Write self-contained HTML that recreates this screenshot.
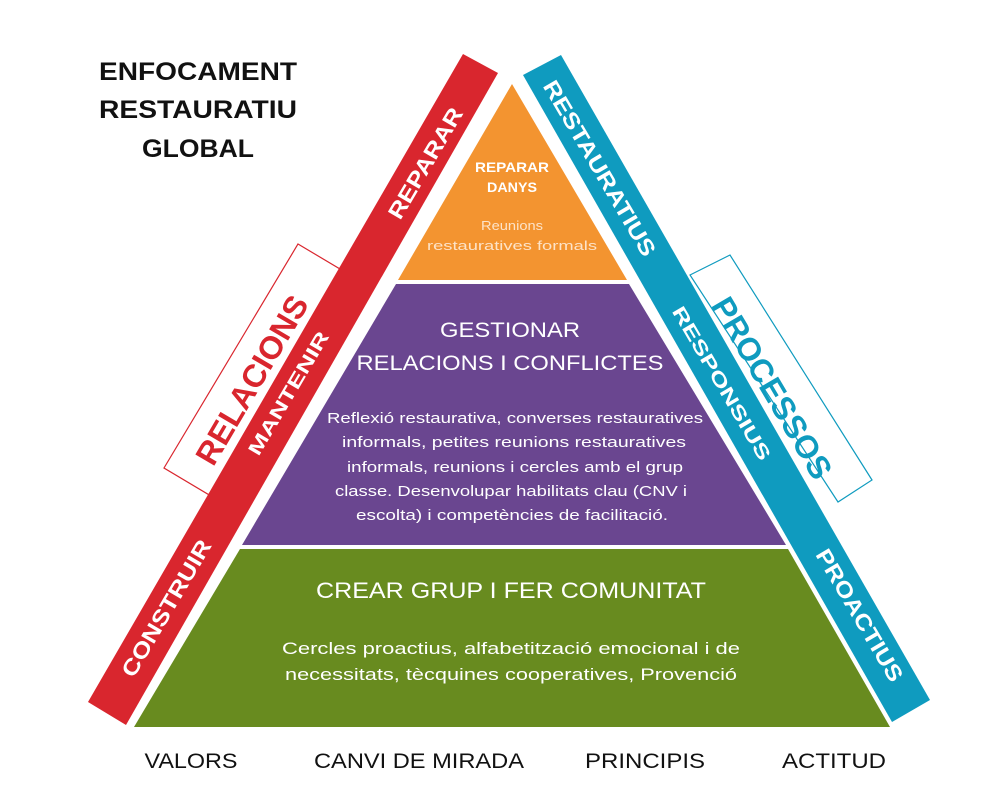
<!DOCTYPE html>
<html><head><meta charset="utf-8"><style>
html,body{margin:0;padding:0;background:#fff;}
svg{display:block;font-family:"Liberation Sans",sans-serif;}
</style></head><body>
<svg width="999" height="810" viewBox="0 0 999 810" xmlns="http://www.w3.org/2000/svg">
<!-- outline boxes -->
<polygon points="298,244 345,272 211,496 164,468" fill="#fff" stroke="#d9262e" stroke-width="1.2"/>
<polygon points="690,275 730,255 872,480 838,502" fill="#fff" stroke="#0f9bbf" stroke-width="1.2"/>
<!-- bands -->
<polygon points="463,54 498,73 126,725 88,702" fill="#d9262e"/>
<polygon points="523,75 561,55 930,700 892,722" fill="#0f9bbf"/>
<!-- pyramid -->
<polygon points="512,84 627,280 398,280" fill="#f39430"/>
<polygon points="396,284 629,284 786,545 242,545" fill="#6a4690"/>
<polygon points="240,549 788,549 890,727 134,727" fill="#688b1f"/>

<!-- title -->
<g font-weight="bold" font-size="25" fill="#111" text-anchor="middle">
<text x="198" y="80" textLength="198" lengthAdjust="spacingAndGlyphs">ENFOCAMENT</text>
<text x="198" y="118" textLength="198" lengthAdjust="spacingAndGlyphs">RESTAURATIU</text>
<text x="198" y="157" textLength="112" lengthAdjust="spacingAndGlyphs">GLOBAL</text>
</g>

<!-- band texts -->
<g font-weight="bold" fill="#fff" text-anchor="middle" font-size="22">
<text transform="translate(425,163) rotate(-59.5)" y="8" textLength="125" lengthAdjust="spacingAndGlyphs">REPARAR</text>
<text transform="translate(288,393) rotate(-59.5)" y="7" font-size="19" textLength="140" lengthAdjust="spacingAndGlyphs">MANTENIR</text>
<text transform="translate(166,608) rotate(-59.5)" y="8" textLength="155" lengthAdjust="spacingAndGlyphs">CONSTRUIR</text>
<text transform="translate(600,168) rotate(59.5)" y="8" textLength="200" lengthAdjust="spacingAndGlyphs">RESTAURATIUS</text>
<text transform="translate(722,383) rotate(59.5)" y="7" font-size="19" textLength="175" lengthAdjust="spacingAndGlyphs">RESPONSIUS</text>
<text transform="translate(860,615) rotate(59.5)" y="8" textLength="150" lengthAdjust="spacingAndGlyphs">PROACTIUS</text>
</g>
<g font-weight="bold" text-anchor="middle" font-size="32">
<text transform="translate(252,380) rotate(-59.5)" y="11" fill="#d9262e" textLength="190" lengthAdjust="spacingAndGlyphs">RELACIONS</text>
<text transform="translate(772,388) rotate(59.5)" y="11" fill="#0f9bbf" textLength="205" lengthAdjust="spacingAndGlyphs">PROCESSOS</text>
</g>

<!-- orange -->
<g fill="#fff" text-anchor="middle">
<text x="512" y="172" font-size="14" font-weight="bold" textLength="74" lengthAdjust="spacingAndGlyphs">REPARAR</text>
<text x="512" y="192" font-size="14" font-weight="bold" textLength="50" lengthAdjust="spacingAndGlyphs">DANYS</text>
<text x="512" y="230" font-size="13" fill="#fde3c8" textLength="62" lengthAdjust="spacingAndGlyphs">Reunions</text>
<text x="512" y="250" font-size="13" fill="#fde3c8" textLength="170" lengthAdjust="spacingAndGlyphs">restauratives formals</text>
</g>
<!-- purple -->
<g fill="#fff" text-anchor="middle">
<text x="510" y="337" font-size="21" textLength="140" lengthAdjust="spacingAndGlyphs">GESTIONAR</text>
<text x="510" y="370" font-size="21" textLength="307" lengthAdjust="spacingAndGlyphs">RELACIONS I CONFLICTES</text>
<g font-size="15">
<text x="515" y="423" textLength="376" lengthAdjust="spacingAndGlyphs">Reflexió restaurativa, converses restauratives</text>
<text x="514" y="447" textLength="344" lengthAdjust="spacingAndGlyphs">informals, petites reunions restauratives</text>
<text x="515" y="472" textLength="336" lengthAdjust="spacingAndGlyphs">informals, reunions i cercles amb el grup</text>
<text x="511" y="496" textLength="352" lengthAdjust="spacingAndGlyphs">classe. Desenvolupar habilitats clau (CNV i</text>
<text x="512" y="520" textLength="312" lengthAdjust="spacingAndGlyphs">escolta) i competències de facilitació.</text>
</g>
</g>
<!-- green -->
<g fill="#fff" text-anchor="middle">
<text x="511" y="598" font-size="22" textLength="390" lengthAdjust="spacingAndGlyphs">CREAR GRUP I FER COMUNITAT</text>
<text x="511" y="654" font-size="17" textLength="458" lengthAdjust="spacingAndGlyphs">Cercles proactius, alfabetització emocional i de</text>
<text x="511" y="680" font-size="17" textLength="452" lengthAdjust="spacingAndGlyphs">necessitats, tècquines cooperatives, Provenció</text>
</g>
<!-- bottom -->
<g fill="#111" font-size="21" text-anchor="middle">
<text x="191" y="768" textLength="93" lengthAdjust="spacingAndGlyphs">VALORS</text>
<text x="419" y="768" textLength="210" lengthAdjust="spacingAndGlyphs">CANVI DE MIRADA</text>
<text x="645" y="768" textLength="120" lengthAdjust="spacingAndGlyphs">PRINCIPIS</text>
<text x="834" y="768" textLength="104" lengthAdjust="spacingAndGlyphs">ACTITUD</text>
</g>
</svg>
</body></html>
